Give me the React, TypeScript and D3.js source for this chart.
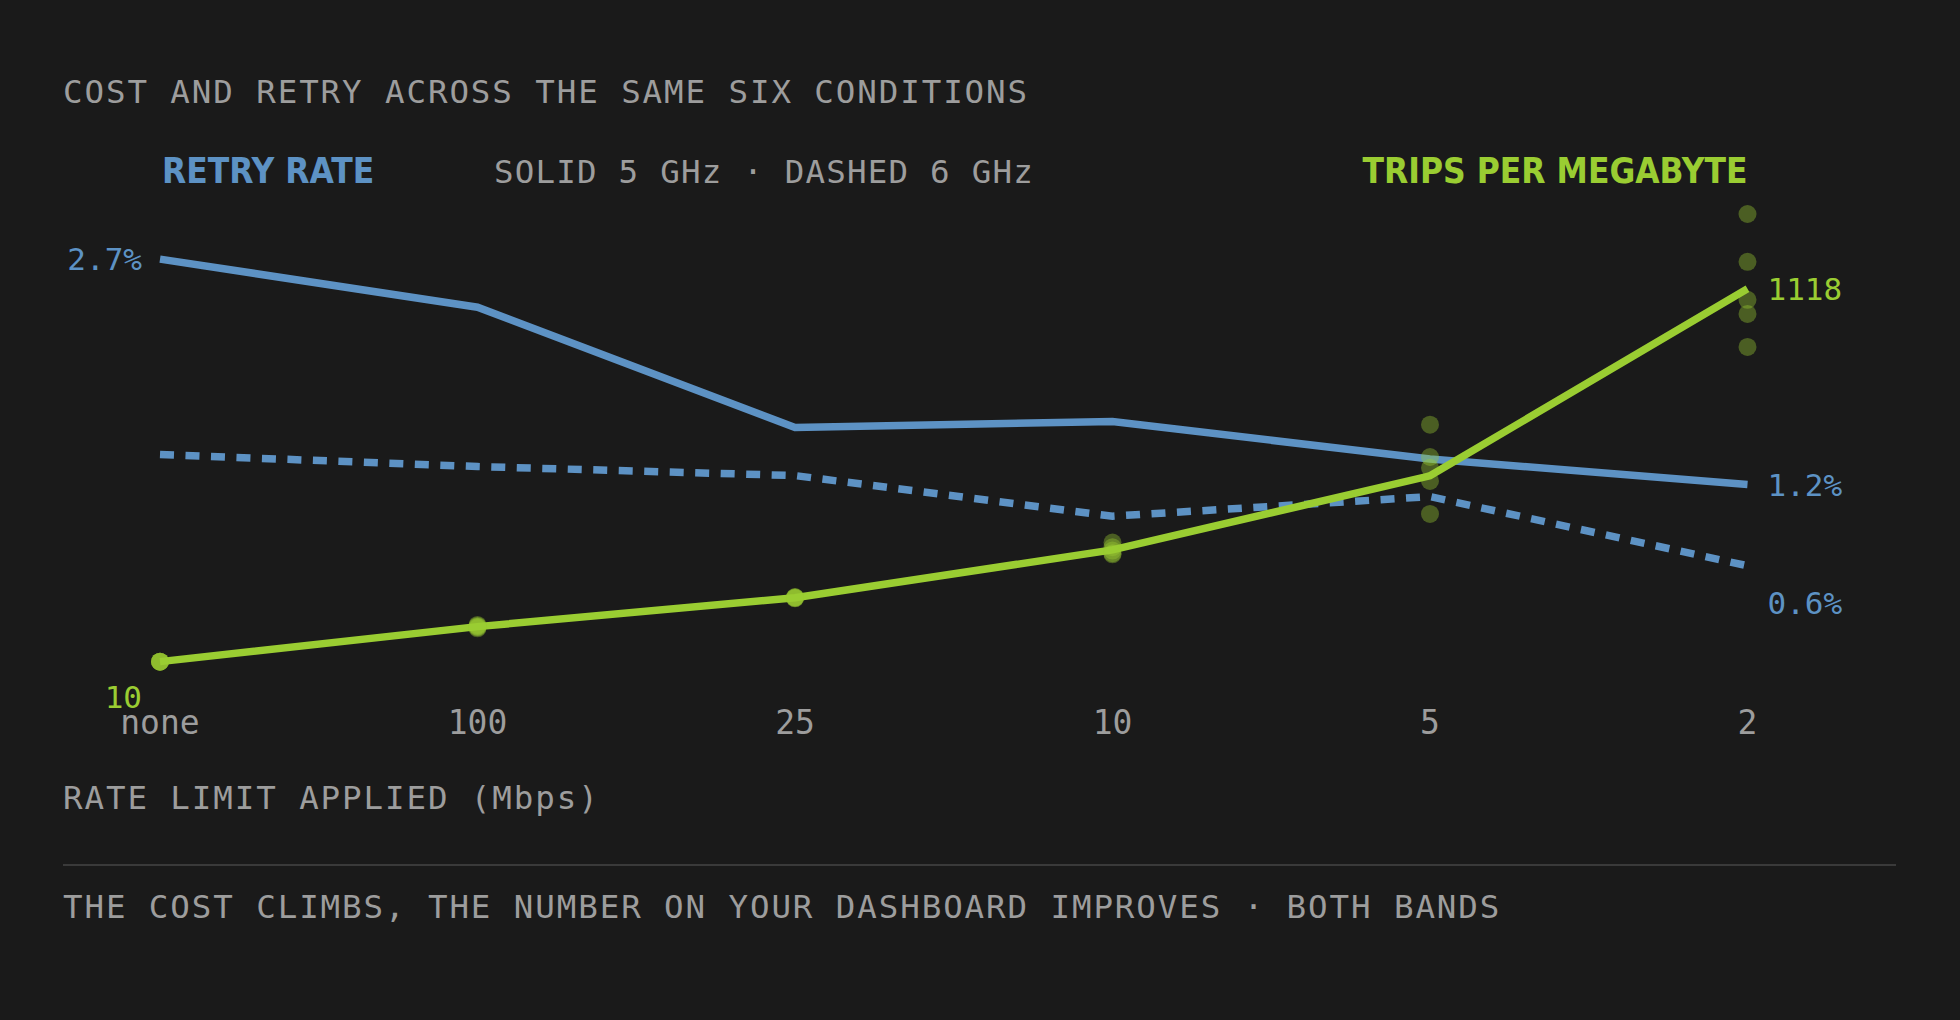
import React, { useEffect } from "react";
import * as d3 from "d3";

// ---- data ----
const categories = ["none", "100", "25", "10", "5", "2"];
const retry5GHz = [2.7, 2.38, 1.58, 1.62, 1.37, 1.2];
const retry6GHz = [1.4, 1.32, 1.26, 0.99, 1.12, 0.66];
const tripsMean = [10, 114, 200, 342, 562, 1118];
const trialsNone = [10, 10, 10, 10, 10];
const trials100 = [119, 116, 114, 112, 109];
const trials25 = [202, 201, 200, 199, 198];
const trials10 = [364, 350, 340, 332, 329];
const trials5 = [714, 618, 586, 547, 449];
const trials2 = [1340, 1198, 1085, 1043, 945];
const trials = [trialsNone, trials100, trials25, trials10, trials5, trials2];

const titleText = "COST AND RETRY ACROSS THE SAME SIX CONDITIONS";
const retryHeading = "RETRY RATE";
const bandNote = "SOLID 5 GHz · DASHED 6 GHz";
const tripsHeading = "TRIPS PER MEGABYTE";
const xTitle = "RATE LIMIT APPLIED (Mbps)";
const footer = "THE COST CLIMBS, THE NUMBER ON YOUR DASHBOARD IMPROVES · BOTH BANDS";

const W = 1960;
const H = 1020;
const BG = "#1a1a1a";
const BLUE = "#5d92c4";
const GREEN = "#9acd32";
const GRAY = "#9d9d9d";
const MONO = "'DejaVu Sans Mono', monospace";
const COND = "'DejaVu Sans Condensed', 'DejaVu Sans', sans-serif";

const pct = (v: number) => (Math.floor(v * 10 + 1e-9) / 10).toFixed(1) + "%";

export default function App() {
  useEffect(() => {
    document.body.style.margin = "0";
    document.body.style.background = BG;
  }, []);

  const x = d3.scalePoint<string>().domain(categories).range([160, 1747.5]);
  const yRetry = d3
    .scaleLinear()
    .domain([0, d3.max(retry5GHz) as number])
    .nice(5)
    .range([665, 214]);
  const allTrials = trials.flat();
  const yTrips = d3
    .scaleLinear()
    .domain([0, d3.max(allTrials) as number])
    .range([665, 214]);

  const lineRetry = d3
    .line<number>()
    .x((_, i) => x(categories[i]) as number)
    .y((d) => yRetry(d));
  const lineTrips = d3
    .line<number>()
    .x((_, i) => x(categories[i]) as number)
    .y((d) => yTrips(d));

  const x0 = x(categories[0]) as number;
  const xN = x(categories[categories.length - 1]) as number;
  const last = categories.length - 1;
  const SW = 7.5;

  return (
    <svg
      width={W}
      height={H}
      viewBox={`0 0 ${W} ${H}`}
      style={{ display: "block", background: BG }}
    >
      <rect x={0} y={0} width={W} height={H} fill={BG} />

      <text x={63} y={103} fill={GRAY} fontFamily={MONO} fontSize={32.5} letterSpacing={1.9}>
        {titleText}
      </text>

      <text
        x={162}
        y={183}
        fill={BLUE}
        fontFamily={COND}
        fontWeight="bold"
        fontSize={35}
        style={{ fontStretch: "condensed" }}
      >
        {retryHeading}
      </text>
      <text x={494} y={183} fill={GRAY} fontFamily={MONO} fontSize={32.5} letterSpacing={1.2}>
        {bandNote}
      </text>
      <text
        x={xN}
        y={183}
        fill={GREEN}
        fontFamily={COND}
        fontWeight="bold"
        fontSize={35}
        textAnchor="end"
        style={{ fontStretch: "condensed" }}
      >
        {tripsHeading}
      </text>

      {/* retry lines */}
      <path
        d={lineRetry(retry5GHz) || ""}
        fill="none"
        stroke={BLUE}
        strokeWidth={SW}
        strokeLinecap="butt"
      />
      <path
        d={lineRetry(retry6GHz) || ""}
        fill="none"
        stroke={BLUE}
        strokeWidth={SW}
        strokeDasharray="14 11.5"
        strokeLinecap="butt"
      />

      {/* trips line */}
      <path
        d={lineTrips(tripsMean) || ""}
        fill="none"
        stroke={GREEN}
        strokeWidth={SW}
        strokeLinecap="butt"
      />

      {/* trial dots */}
      {trials.map((arr, i) =>
        arr.map((v, j) => (
          <circle
            key={`${i}-${j}`}
            cx={x(categories[i]) as number}
            cy={yTrips(v)}
            r={9}
            fill={GREEN}
            fillOpacity={0.38}
          />
        ))
      )}

      {/* value labels */}
      <text
        x={x0 - 18}
        y={yRetry(retry5GHz[0])}
        dy="0.36em"
        fill={BLUE}
        fontFamily={MONO}
        fontSize={31}
        textAnchor="end"
      >
        {pct(retry5GHz[0])}
      </text>
      <text
        x={xN + 20}
        y={yRetry(retry5GHz[last])}
        dy="0.36em"
        fill={BLUE}
        fontFamily={MONO}
        fontSize={31}
      >
        {pct(retry5GHz[last])}
      </text>
      <text
        x={xN + 20}
        y={yRetry(retry6GHz[last]) + 37}
        dy="0.36em"
        fill={BLUE}
        fontFamily={MONO}
        fontSize={31}
      >
        {pct(retry6GHz[last])}
      </text>
      <text
        x={xN + 20}
        y={yTrips(tripsMean[last])}
        dy="0.36em"
        fill={GREEN}
        fontFamily={MONO}
        fontSize={31}
      >
        {String(tripsMean[last])}
      </text>
      <text
        x={x0 - 18}
        y={yTrips(tripsMean[0]) + 46}
        fill={GREEN}
        fontFamily={MONO}
        fontSize={31}
        textAnchor="end"
      >
        {String(tripsMean[0])}
      </text>

      {/* x tick labels */}
      {categories.map((c) => (
        <text
          key={c}
          x={x(c) as number}
          y={734}
          fill={GRAY}
          fontFamily={MONO}
          fontSize={33}
          textAnchor="middle"
        >
          {c}
        </text>
      ))}

      <text x={63} y={809} fill={GRAY} fontFamily={MONO} fontSize={32.5} letterSpacing={1.9}>
        {xTitle}
      </text>

      <line x1={63} x2={1896} y1={865} y2={865} stroke="#3a3a3a" strokeWidth={2} />

      <text x={63} y={918} fill={GRAY} fontFamily={MONO} fontSize={32.5} letterSpacing={1.9}>
        {footer}
      </text>
    </svg>
  );
}
